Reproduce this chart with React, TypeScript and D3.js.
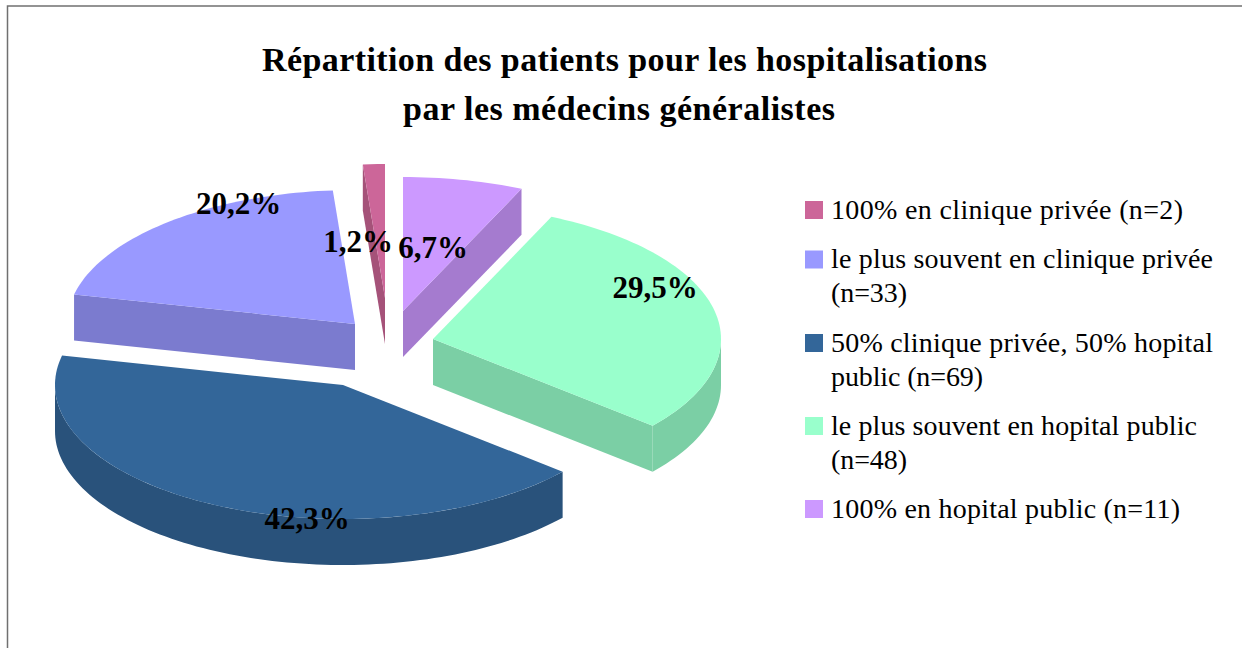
import React from "react";
import * as d3 from "d3";

const categories = [
  "100% en clinique privée (n=2)",
  "le plus souvent en clinique privée (n=33)",
  "50% clinique privée, 50% hopital public (n=69)",
  "le plus souvent en hopital public (n=48)",
  "100% en hopital public (n=11)",
];
const counts = [2, 33, 69, 48, 11];
const percentLabels = ["1,2%", "20,2%", "42,3%", "29,5%", "6,7%"];
const topColors = ["#CC6699", "#9999FF", "#336699", "#99FFCC", "#CC99FF"];
const sideColors = ["#A55279", "#7B7BCF", "#29527B", "#7BCFA5", "#A57BCF"];
const legendLines = [
  ["100% en clinique privée (n=2)"],
  ["le plus souvent en clinique privée", "(n=33)"],
  ["50% clinique privée, 50% hopital", "public (n=69)"],
  ["le plus souvent en hopital public", "(n=48)"],
  ["100% en hopital public (n=11)"],
];
const titleLines = [
  "Répartition des patients pour les hospitalisations",
  "par les médecins généralistes",
];

// layout only
const RX = 288, RY = 134, DEPTH = 46;
const apexes: [number, number][] = [[385, 298], [355, 324], [343, 385], [433, 339], [403, 311]];
const labelPos: [number, number][] = [[238.5, 214], [358, 252], [307, 529], [655, 298], [433, 258]];
const labelOrder = [1, 0, 2, 3, 4];
const legendSwatchY = [201, 250.5, 334, 417, 500];
const legendBaselines = [[218.5], [267.5, 301.5], [351.5, 385.5], [434.5, 468.5], [517.5]];
const legendWidths = [[352], [382, 76], [382, 152], [366, 76], [349]];
const titleGeom = [
  { x: 262, y: 70.5, w: 725 },
  { x: 403, y: 119.5, w: 432 },
];
const paintOrder = [0, 4, 1, 3, 2];
const FONT = "'Liberation Serif', 'Times New Roman', serif";

const arcs = d3.pie<number>().sort(null).startAngle(0).endAngle(-2 * Math.PI)(counts);

function rim(a: number, c: [number, number], dz = 0): [number, number] {
  return [c[0] + RX * Math.sin(a), c[1] - RY * Math.cos(a) + dz];
}
function arcPts(a0: number, a1: number, c: [number, number], dz = 0) {
  const n = Math.max(2, Math.ceil((Math.abs(a1 - a0) / Math.PI) * 120));
  return d3.range(n + 1).map((i) => rim(a0 + ((a1 - a0) * i) / n, c, dz));
}
const line = d3.line();

function Slice({ i }: { i: number }) {
  const c = apexes[i];
  const a0 = 2 * Math.PI + arcs[i].endAngle;
  const a1 = 2 * Math.PI + arcs[i].startAngle;
  const mid = (a0 + a1) / 2;
  const M = rim(mid, c);
  const faces: string[] = [];
  [a0, a1].forEach((a) => {
    const P = rim(a, c);
    const dx = P[0] - c[0];
    if (Math.abs(dx) < 1e-6) return;
    const lineY = c[1] + ((P[1] - c[1]) / dx) * (M[0] - c[0]);
    if (M[1] < lineY) {
      const pts: [number, number][] = [c, P, [P[0], P[1] + DEPTH], [c[0], c[1] + DEPTH]];
      faces.push(line(pts) + "Z");
    }
  });
  const w0 = Math.max(a0, Math.PI / 2), w1 = Math.min(a1, (3 * Math.PI) / 2);
  let wall = "";
  if (w1 > w0) {
    const top = arcPts(w0, w1, c);
    const bot = arcPts(w1, w0, c, DEPTH);
    wall = line([...top, ...bot]) + "Z";
  }
  const topPath = line([c, ...arcPts(a0, a1, c)]) + "Z";
  return (
    <g>
      {faces.map((d, k) => (
        <path key={k} d={d} fill={sideColors[i]} />
      ))}
      {wall && <path d={wall} fill={sideColors[i]} />}
      <path d={topPath} fill={topColors[i]} />
    </g>
  );
}

export default function App() {
  return (
    <svg
      width={1242}
      height={648}
      style={{ position: "fixed", left: 0, top: 0, background: "#fff" }}
      fontFamily={FONT}
      aria-label={categories.join("; ")}
    >
      <path d="M7.5,648V6H1242" fill="none" stroke="#707070" strokeWidth={1.5} />
      {titleLines.map((t, i) => (
        <text
          key={i}
          x={titleGeom[i].x}
          y={titleGeom[i].y}
          textLength={titleGeom[i].w}
          lengthAdjust="spacing"
          fontSize={34}
          fontWeight="bold"
          fill="#000"
        >
          {t}
        </text>
      ))}
      {paintOrder.map((i) => (
        <Slice key={i} i={i} />
      ))}
      {percentLabels.map((t, i) => {
        const p = labelPos[labelOrder[i]];
        return (
          <text key={i} x={p[0]} y={p[1]} textAnchor="middle" fontSize={31} fontWeight="bold" fill="#000">
            {t}
          </text>
        );
      })}
      {legendLines.map((ls, i) => (
        <g key={i}>
          <rect x={805} y={legendSwatchY[i]} width={18} height={18} fill={topColors[i]} />
          {ls.map((t, k) => (
            <text
              key={k}
              x={831}
              y={legendBaselines[i][k]}
              textLength={legendWidths[i][k]}
              lengthAdjust="spacing"
              fontSize={28}
              fill="#000"
            >
              {t}
            </text>
          ))}
        </g>
      ))}
    </svg>
  );
}
